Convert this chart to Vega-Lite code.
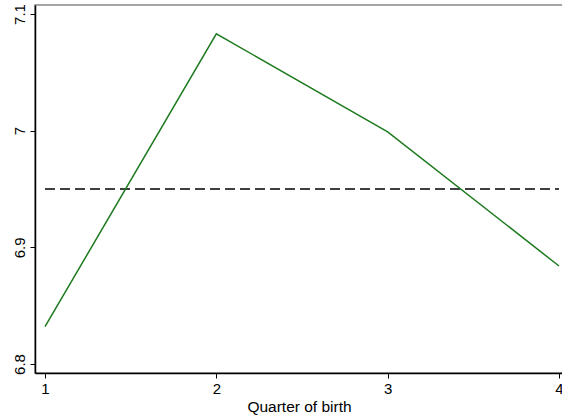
{
  "$schema": "https://vega.github.io/schema/vega-lite/v6.json",
  "width": 528,
  "height": 368,
  "autosize": {"type": "none"},
  "padding": {"left": 35, "top": 5, "right": 0, "bottom": 45},
  "background": "white",
  "config": {
    "view": {"stroke": "#888888", "strokeWidth": 1.5},
    "font": "Liberation Sans",
    "axis": {
      "grid": false,
      "domainColor": "black",
      "domainWidth": 1.5,
      "tickColor": "black",
      "tickSize": 5,
      "labelFont": "Liberation Sans",
      "labelFontSize": 15,
      "labelColor": "black",
      "titleFont": "Liberation Sans",
      "titleFontSize": 15.5,
      "titleFontWeight": "normal",
      "titleColor": "black"
    }
  },
  "datasets": {
    "means": [
      {"quarter": 1, "value": 6.832},
      {"quarter": 2, "value": 7.083},
      {"quarter": 3, "value": 6.999},
      {"quarter": 4, "value": 6.884}
    ],
    "overall": [
      {"start": 1, "end": 4, "value": 6.95}
    ]
  },
  "layer": [
    {
      "data": {"name": "overall"},
      "mark": {"type": "rule", "color": "black", "strokeWidth": 1.5, "strokeDash": [10, 5]},
      "encoding": {
        "x": {"field": "start", "type": "quantitative"},
        "x2": {"field": "end"},
        "y": {"field": "value", "type": "quantitative"}
      }
    },
    {
      "data": {"name": "means"},
      "mark": {"type": "line", "color": "#1e7a1e", "strokeWidth": 1.5},
      "encoding": {
        "x": {
          "field": "quarter",
          "type": "quantitative",
          "scale": {"domain": [0.9416, 4.0233], "nice": false, "zero": false},
          "axis": {"values": [1, 2, 3, 4], "format": "d", "title": "Quarter of birth", "titlePadding": 3, "labelPadding": 3}
        },
        "y": {
          "field": "value",
          "type": "quantitative",
          "scale": {"domain": [6.7923, 7.1077], "nice": false, "zero": false},
          "axis": {"values": [6.8, 6.9, 7, 7.1], "format": "~g", "title": null, "labelAngle": -90, "labelAlign": "center", "labelBaseline": "bottom", "labelPadding": 3}
        }
      }
    }
  ]
}
